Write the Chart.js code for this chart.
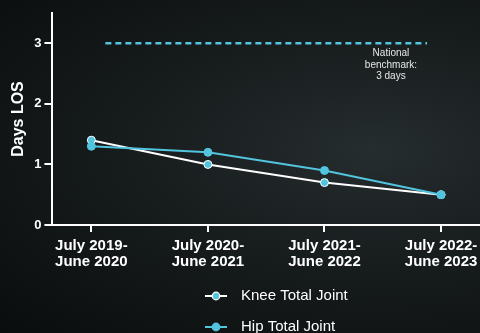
<!DOCTYPE html>
<html>
<head>
<meta charset="utf-8">
<script src="https://cdn.jsdelivr.net/npm/chart.js@4"></script>
<style>
  html, body { margin: 0; padding: 0; }
  body {
    width: 480px; height: 333px; overflow: hidden;
    background: radial-gradient(ellipse at 78% 45%, #262d2e 0%, #171c1d 45%, #0a0d0e 100%);
  }
  #wrap { position: relative; width: 480px; height: 333px; }
</style>
</head>
<body>
<div id="wrap"><canvas id="losChart"></canvas></div>
<script>
// x-axis categories (two lines each)
const periods = [
  ["July 2019-", "June 2020"],
  ["July 2020-", "June 2021"],
  ["July 2021-", "June 2022"],
  ["July 2022-", "June 2023"]
];
// average length of stay, days
const knee = [1.4, 1.0, 0.7, 0.5];
const hip = [1.3, 1.2, 0.9, 0.5];
// benchmark line
const benchmarkValue = 3;
const benchmarkSpan = [0.12, 2.88];
const benchmarkNote = ["National", "benchmark:", "3 days"];
const yTicks = [0, 1, 2, 3];

const cyan = "#52c4de";
const white = "#ffffff";
const font = "'Liberation Sans', Arial, sans-serif";

// little "line with a dot" legend markers
function legendMarker(lineColor, dotColor, borderColor) {
  const c = document.createElement("canvas");
  c.width = 24; c.height = 10;
  const g = c.getContext("2d");
  g.strokeStyle = lineColor; g.lineWidth = 2;
  g.beginPath(); g.moveTo(1, 5); g.lineTo(23, 5); g.stroke();
  g.fillStyle = dotColor; g.strokeStyle = borderColor; g.lineWidth = 1.2;
  g.beginPath(); g.arc(12, 5, 3.8, 0, Math.PI * 2); g.fill(); g.stroke();
  return c;
}

const legendItems = [
  { text: "Knee Total Joint", marker: legendMarker(white, cyan, white) },
  { text: "Hip Total Joint", marker: legendMarker(cyan, cyan, cyan) }
];

const extras = {
  id: "extras",
  afterDatasetsDraw(chart) {
    const { ctx, scales } = chart;
    // benchmark note
    ctx.save();
    ctx.fillStyle = "#e6e6e6";
    ctx.font = "10px " + font;
    ctx.textAlign = "center";
    ctx.textBaseline = "middle";
    const nx = scales.x.getPixelForValue(2.57);
    const ny = scales.y.getPixelForValue(benchmarkValue) + 10;
    benchmarkNote.forEach((t, i) => ctx.fillText(t, nx, ny + i * 11.5));
    // legend
    ctx.font = "15px " + font;
    ctx.textAlign = "left";
    ctx.fillStyle = white;
    legendItems.forEach((it, i) => {
      const y = 296 + i * 31;
      ctx.drawImage(it.marker, 204, y - 5);
      ctx.fillText(it.text, 241, y);
    });
    ctx.restore();
  }
};

const toPoints = arr => arr.map((v, i) => ({ x: i, y: v }));

new Chart(document.getElementById("losChart"), {
  type: "line",
  data: {
    datasets: [
      {
        label: "National benchmark",
        data: benchmarkSpan.map(x => ({ x: x, y: benchmarkValue })),
        borderColor: cyan,
        borderWidth: 2.5,
        borderDash: [6, 4],
        pointRadius: 0,
        fill: false
      },
      {
        label: "Hip Total Joint",
        data: toPoints(hip),
        borderColor: cyan,
        backgroundColor: cyan,
        pointBorderColor: cyan,
        borderWidth: 2,
        pointRadius: 4,
        pointBorderWidth: 1,
        fill: false
      },
      {
        label: "Knee Total Joint",
        data: toPoints(knee),
        borderColor: white,
        backgroundColor: cyan,
        pointBorderColor: white,
        borderWidth: 2,
        pointRadius: 4,
        pointBorderWidth: 1,
        fill: false
      }
    ]
  },
  options: {
    responsive: true,
    maintainAspectRatio: false,
    animation: false,
    layout: { autoPadding: false, padding: { top: 13, right: 0, bottom: 57, left: 9 } },
    plugins: {
      legend: { display: false },
      tooltip: { enabled: false }
    },
    scales: {
      x: {
        type: "linear",
        min: -0.334,
        max: periods.length - 1 + 0.334,
        afterBuildTicks: s => { s.ticks = periods.map((_, i) => ({ value: i })); },
        afterFit: s => { s.paddingLeft = 0; s.paddingRight = 0; },
        border: { color: white, width: 2 },
        grid: { drawOnChartArea: false, color: white, lineWidth: 2, tickLength: 7 },
        ticks: {
          color: white,
          padding: 6,
          maxRotation: 0,
          font: { family: font, size: 15, weight: "bold", lineHeight: 16 / 15 },
          callback: v => periods[v]
        }
      },
      y: {
        min: 0,
        max: 3.5,
        afterBuildTicks: s => { s.ticks = yTicks.map(v => ({ value: v })); },
        border: { color: white, width: 2 },
        grid: { drawOnChartArea: false, color: white, lineWidth: 2, tickLength: 8 },
        ticks: {
          color: white,
          padding: 3,
          font: { family: font, size: 13, weight: "bold" }
        },
        title: {
          display: true,
          text: "Days LOS",
          color: white,
          padding: { top: 0, bottom: 3 },
          font: { family: font, size: 16, weight: "bold" }
        }
      }
    }
  },
  plugins: [extras]
});
</script>
</body>
</html>
